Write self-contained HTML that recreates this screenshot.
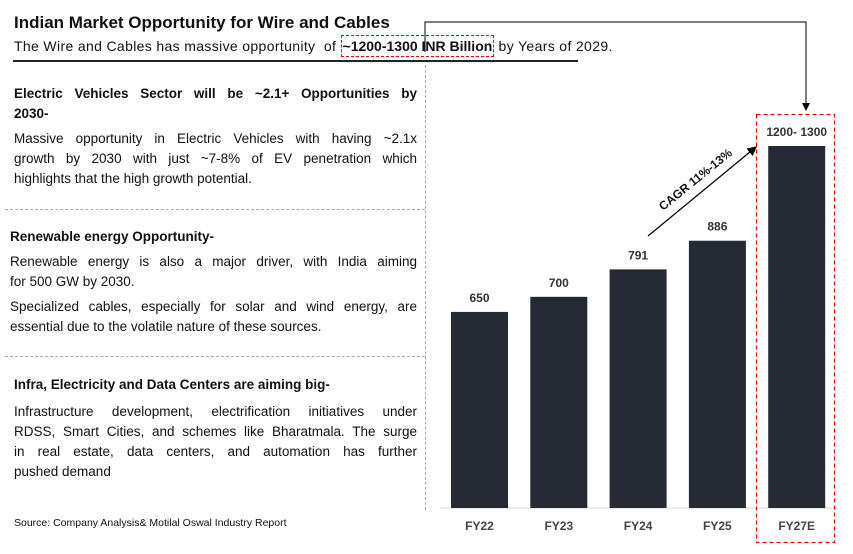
<!DOCTYPE html>
<html><head><meta charset="utf-8"><style>
body{margin:0;width:853px;height:554px;background:#fff;position:relative;overflow:hidden;font-family:"Liberation Sans",sans-serif;color:#111}
.a{position:absolute}
.t{font-size:13.5px;line-height:20px;width:403px;left:14px}
.t div{text-align:justify;text-align-last:justify;white-space:nowrap;height:20px}
.t div.l{text-align-last:left}
.h{font-size:13.5px;font-weight:bold;line-height:20px}
</style></head><body>
<div class="a" style="left:14px;top:13px;font-size:17px;font-weight:bold">Indian Market Opportunity for Wire and Cables</div>
<div class="a" style="left:14px;top:38px;font-size:14px;letter-spacing:0.35px;white-space:nowrap">The Wire and Cables has massive opportunity &nbsp;of <b style="border:1px dashed #e00;padding:2px 1px;letter-spacing:0">~1200-1300 INR Billion</b> by Years of 2029.</div>
<div class="a" style="left:13px;top:60px;width:565px;height:2px;background:#222"></div>

<div class="a h t" style="top:84px"><div>Electric Vehicles Sector will be ~2.1+ Opportunities by</div><div class="l">2030-</div></div>
<div class="a t" style="top:129px"><div>Massive opportunity in Electric Vehicles with having ~2.1x</div><div>growth by 2030 with just ~7-8% of EV penetration which</div><div class="l">highlights that the high growth potential.</div></div>
<div class="a" style="left:5px;top:209px;width:420px;border-top:1px dashed #aaa"></div>
<div class="a h" style="left:10px;top:227px">Renewable energy Opportunity-</div>
<div class="a t" style="left:10px;top:252px;width:407px"><div>Renewable energy is also a major driver, with India aiming</div><div class="l">for 500 GW by 2030.</div></div>
<div class="a t" style="left:10px;top:297px;width:407px"><div>Specialized cables, especially for solar and wind energy, are</div><div class="l">essential due to the volatile nature of these sources.</div></div>
<div class="a" style="left:5px;top:356px;width:420px;border-top:1px dashed #aaa"></div>
<div class="a h" style="left:14px;top:375px">Infra, Electricity and Data Centers are aiming big-</div>
<div class="a t" style="top:402px"><div>Infrastructure development, electrification initiatives under</div><div>RDSS, Smart Cities, and schemes like Bharatmala. The surge</div><div>in real estate, data centers, and automation has further</div><div class="l">pushed demand</div></div>
<div class="a" style="left:14px;top:517px;font-size:10.5px">Source: Company Analysis&amp; Motilal Oswal Industry Report</div>
<div class="a" style="left:425px;top:65px;height:445px;border-left:1px dashed #aaa"></div>

<svg class="a" style="left:0;top:0" width="853" height="554">
<defs><marker id="ar" markerWidth="8" markerHeight="8" refX="7" refY="4" orient="auto"><path d="M0,0L8,4L0,8z" fill="#000"/></marker></defs>
<g id="g"></g>
</svg>
<script>
const categories=["FY22","FY23","FY24","FY25","FY27E"];
const values=[650,700,791,886,1200];
const valueLabels=["650","700","791","886","1200- 1300"];
const svg=document.getElementById('g');const NS='http://www.w3.org/2000/svg';
const base=508,scale=362/1200;
const x=i=>451+i*79.3,bw=57;
const y=v=>base-v*scale;
function mk(t,a){const e=document.createElementNS(NS,t);for(const k in a)e.setAttribute(k,a[k]);svg.appendChild(e);return e;}
const ax=mk('line',{x1:440,y1:base,x2:837,y2:base,stroke:'#d9d9d9','stroke-width':1});


categories.forEach((c,i)=>{
 const r=mk('rect',{x:x(i),y:y(values[i]),width:bw,height:values[i]*scale,fill:'#252a35'});
 
 
 const t=mk('text',{x:x(i)+bw/2,y:y(values[i])-10,'text-anchor':'middle','font-size':12,'font-weight':'bold',fill:'#333','font-family':'Liberation Sans'});
 t.textContent=valueLabels[i];
 
 
 const l=mk('text',{x:x(i)+bw/2,y:530,'text-anchor':'middle','font-size':12,'font-weight':'bold',fill:'#444','font-family':'Liberation Sans'});
 l.textContent=c;
 
 
});
const box=mk('rect',{x:756.5,y:114.5,width:78,height:428,fill:'none',stroke:'#e00','stroke-width':1.2,'stroke-dasharray':'4,3'});


const arr=mk('line',{x1:648,y1:236,x2:756,y2:147,stroke:'#000','stroke-width':1.2,'marker-end':'url(#ar)'});


const cg=mk('text',{x:0,y:0,transform:'translate(663,211) rotate(-39)','font-size':12,'font-weight':'bold','font-family':'Liberation Sans',fill:'#111'});
cg.textContent='CAGR 11%-13%';


const con=mk('polyline',{points:'425,52 425,22 806,22 806,110',fill:'none',stroke:'#000','stroke-width':1,'marker-end':'url(#ar)'});


</script>
</body></html>
